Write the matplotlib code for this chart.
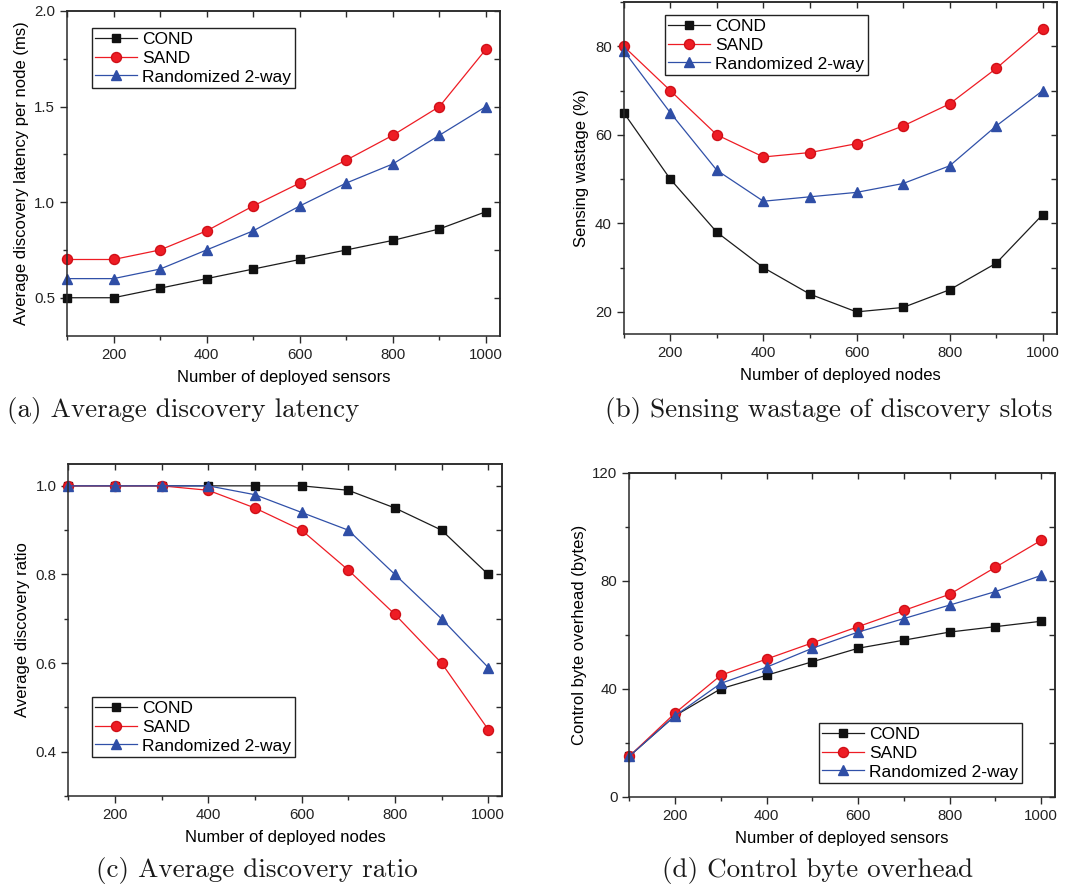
"""Four-panel neighbour discovery comparison (COND / SAND / Randomized 2-way)."""

import matplotlib
matplotlib.use("Agg")
import matplotlib.pyplot as plt
from matplotlib.ticker import MultipleLocator

plt.rcParams.update({
    "font.family": ["Liberation Sans", "DejaVu Sans"],
    "axes.linewidth": 1.1,
    "axes.edgecolor": "#2a2a2a",
    "xtick.color": "#2a2a2a",
    "ytick.color": "#2a2a2a",
    "xtick.labelcolor": "#222222",
    "ytick.labelcolor": "#222222",
})

x_nodes = [100, 200, 300, 400, 500, 600, 700, 800, 900, 1000]
series_names = ["COND", "SAND", "Randomized 2-way"]

# (a) average discovery latency per node (ms)
lat_cond = [0.5, 0.5, 0.55, 0.6, 0.65, 0.7, 0.75, 0.8, 0.86, 0.95]
lat_sand = [0.7, 0.7, 0.75, 0.85, 0.98, 1.1, 1.22, 1.35, 1.5, 1.8]
lat_rand = [0.6, 0.6, 0.65, 0.75, 0.85, 0.98, 1.1, 1.2, 1.35, 1.5]

# (b) sensing wastage (%)
waste_cond = [65, 50, 38, 30, 24, 20, 21, 25, 31, 42]
waste_sand = [80, 70, 60, 55, 56, 58, 62, 67, 75, 84]
waste_rand = [79, 65, 52, 45, 46, 47, 49, 53, 62, 70]

# (c) average discovery ratio
ratio_cond = [1.0, 1.0, 1.0, 1.0, 1.0, 1.0, 0.99, 0.95, 0.9, 0.8]
ratio_sand = [1.0, 1.0, 1.0, 0.99, 0.95, 0.9, 0.81, 0.71, 0.6, 0.45]
ratio_rand = [1.0, 1.0, 1.0, 1.0, 0.98, 0.94, 0.9, 0.8, 0.7, 0.59]

# (d) control byte overhead (bytes)
bytes_cond = [15, 30, 40, 45, 50, 55, 58, 61, 63, 65]
bytes_sand = [15, 31, 45, 51, 57, 63, 69, 75, 85, 95]
bytes_rand = [15, 30, 42, 48, 55, 61, 66, 71, 76, 82]

STYLES = [
    dict(color="#1c1c1c", marker="s", ms=6.2, mfc="#111111", mec="#111111"),
    dict(color="#ee1c24", marker="o", ms=7.2, mfc="#ee1c24", mec="#d01018"),
    dict(color="#3050a8", marker="^", ms=7.2, mfc="#2f4ea6", mec="#2f4ea6"),
]


def style_axes(ax, ylim, ymaj, ymin, yfmt):
    ax.set_xlim(100, 1030)
    ax.set_ylim(*ylim)
    ax.xaxis.set_major_locator(MultipleLocator(200))
    ax.xaxis.set_minor_locator(MultipleLocator(100))
    ax.yaxis.set_major_locator(MultipleLocator(ymaj))
    ax.yaxis.set_minor_locator(MultipleLocator(ymin))
    ax.yaxis.set_major_formatter(yfmt)
    ax.tick_params(which="major", direction="out", length=5, width=1, labelsize=10.8)
    ax.tick_params(which="minor", direction="out", length=3, width=1)
    # inward ticks on the mirrored top / right axes
    top = ax.secondary_xaxis("top")
    top.xaxis.set_major_locator(MultipleLocator(100))
    top.tick_params(direction="in", length=4, width=1, labeltop=False)
    right = ax.secondary_yaxis("right")
    right.yaxis.set_major_locator(MultipleLocator(ymin))
    right.tick_params(direction="in", length=4, width=1, labelright=False)


def draw_lines(ax, ys):
    for y, name, st in zip(ys, series_names, STYLES):
        ax.plot(x_nodes, y, lw=0.9, label=name, clip_on=False, **st)


def add_legend(ax, fig, x0, y0):
    ax.legend(loc="upper left", bbox_to_anchor=(x0 / 1075, 1 - y0 / 890),
              bbox_transform=fig.transFigure, fontsize=12.5, frameon=True,
              fancybox=False, edgecolor="#222222", framealpha=1,
              borderpad=0.2, labelspacing=0.22, handlelength=2.4,
              handletextpad=0.3, borderaxespad=0)
    ax.get_legend().get_frame().set_linewidth(1.0)


fig = plt.figure(figsize=(10.75, 8.9), dpi=100)

ax_a = fig.add_axes([0.0623, 0.6225, 0.4028, 0.3652])
ax_b = fig.add_axes([0.5802, 0.6247, 0.4028, 0.3730])
ax_c = fig.add_axes([0.0635, 0.1056, 0.4037, 0.3734])
ax_d = fig.add_axes([0.5854, 0.1048, 0.3960, 0.3640])

draw_lines(ax_a, [lat_cond, lat_sand, lat_rand])
style_axes(ax_a, (0.3, 2.0), 0.5, 0.25, "{x:.1f}")
ax_a.set_xlabel("Number of deployed sensors", fontsize=12, labelpad=6)
ax_a.set_ylabel("Average discovery latency per node (ms)", fontsize=12, labelpad=4)
add_legend(ax_a, fig, 92, 28)

draw_lines(ax_b, [waste_cond, waste_sand, waste_rand])
style_axes(ax_b, (15, 90), 20, 10, "{x:.0f}")
ax_b.set_xlabel("Number of deployed nodes", fontsize=12, labelpad=6)
ax_b.set_ylabel("Sensing wastage (%)", fontsize=12, labelpad=4)
add_legend(ax_b, fig, 665, 15)

draw_lines(ax_c, [ratio_cond, ratio_sand, ratio_rand])
style_axes(ax_c, (0.3, 1.05), 0.2, 0.1, "{x:.1f}")
ax_c.set_xlabel("Number of deployed nodes", fontsize=12, labelpad=6)
ax_c.set_ylabel("Average discovery ratio", fontsize=12, labelpad=4)
add_legend(ax_c, fig, 92, 697)

draw_lines(ax_d, [bytes_cond, bytes_sand, bytes_rand])
style_axes(ax_d, (0, 120), 40, 20, "{x:.0f}")
ax_d.set_xlabel("Number of deployed sensors", fontsize=12, labelpad=6)
ax_d.set_ylabel("Control byte overhead (bytes)", fontsize=12, labelpad=4)
add_legend(ax_d, fig, 819, 723)

captions = [
    ("(a) Average discovery latency", 183, 410),
    ("(b) Sensing wastage of discovery slots", 829, 410),
    ("(c) Average discovery ratio", 257, 870),
    ("(d) Control byte overhead", 818, 870),
]
for text, cx, cy in captions:
    fig.text(cx / 1075, 1 - cy / 890, text, ha="center", va="center",
             fontsize=19.5, family=["cmr10", "DejaVu Serif"], color="#1a1a1a")

fig.savefig("out.png", dpi=100)
plt.close(fig)
